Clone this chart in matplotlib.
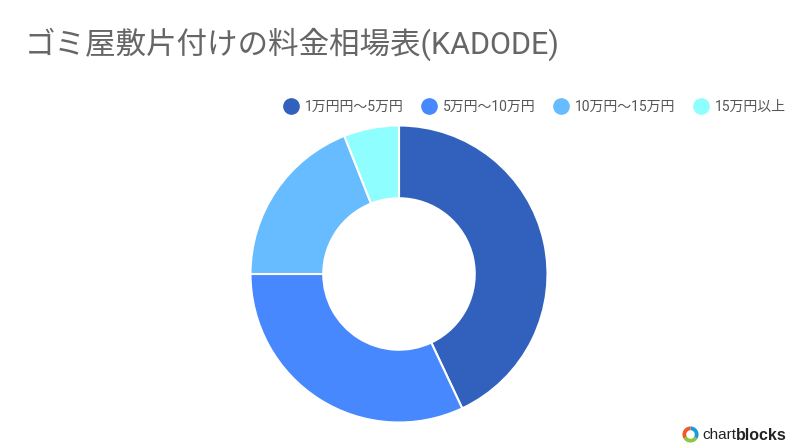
import matplotlib
matplotlib.use("Agg")
import matplotlib.pyplot as plt
from matplotlib.lines import Line2D
from matplotlib.patches import Wedge

categories = ["1万円円〜5万円", "5万円〜10万円", "10万円〜15万円", "15万円以上"]
values = [43, 32, 19, 6]
colors = ["#3161BC", "#4788FE", "#66BCFE", "#8FFEFE"]
title = "ゴミ屋敷片付けの料金相場表(KADODE)"

plt.rcParams['font.family'] = ['Roboto', 'Noto Sans CJK JP', 'DejaVu Sans']

W, H = 799, 448
fig = plt.figure(figsize=(W / 100, H / 100), dpi=100)
fig.patch.set_facecolor("white")

cx, cy, r = 399, 274, 148.5
ax = fig.add_axes([(cx - r) / W, (H - cy - r) / H, 2 * r / W, 2 * r / H])
ax.pie(values, colors=colors, startangle=90, counterclock=False, radius=1,
       wedgeprops=dict(width=0.49, edgecolor="white", linewidth=1.5))
ax.set_xlim(-1.0, 1.0)
ax.set_ylim(-1.0, 1.0)
ax.set_aspect("equal")
ax.axis("off")

fig.text(25 / W, 1 - 44 / H, title, fontsize=22, color="#666666",
         ha="left", va="center")

handles = [Line2D([0], [0], marker="o", linestyle="none", markersize=11,
                  markerfacecolor=c, markeredgecolor=c) for c in colors]
fig.legend(handles, categories, ncol=4, loc="center",
           bbox_to_anchor=(535 / W, 1 - 107 / H), frameon=False,
           fontsize=10, labelcolor="#555555", handletextpad=0.5,
           columnspacing=1.35, handlelength=1.0)

# chartblocks logo
lax = fig.add_axes([682 / W, 1 - 443 / H, 17 / W, 17 / H])
lax.set_xlim(-1, 1)
lax.set_ylim(-1, 1)
lax.set_aspect("equal")
lax.axis("off")
for a0, a1, c in [(90, 210, "#F05A28"), (210, 330, "#8DC63F"), (330, 450, "#1C9AD6")]:
    lax.add_patch(Wedge((0, 0), 0.95, a0, a1, width=0.45, facecolor=c, edgecolor="none"))
fig.text(736 / W, 1 - 435 / H, "chart", fontsize=11, color="#222222",
         ha="right", va="center", family="Liberation Sans")
fig.text(736 / W, 1 - 435 / H, "blocks", fontsize=11.5, color="#222222",
         ha="left", va="center", family="Liberation Sans", fontweight="bold")

fig.savefig("out.png", dpi=100, facecolor="white")
